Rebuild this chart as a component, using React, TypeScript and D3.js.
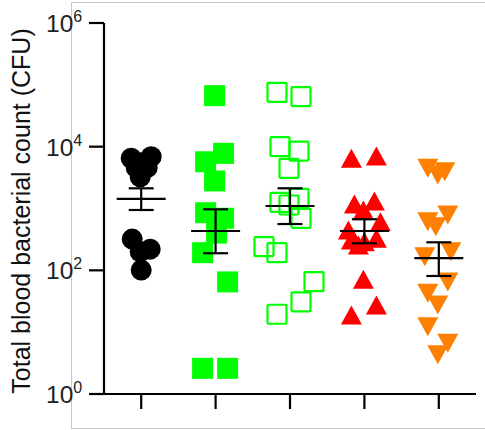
import React from 'react';
import * as d3 from 'd3';

const categories = ['Group 1', 'Group 2', 'Group 3', 'Group 4', 'Group 5'];

// CFU values per group and horizontal jitter (px) used to spread overlapping points
const g1Values = [6490, 6900, 5500, 4580, 4580, 3240, 320, 220, 200, 101];
const g1Jitter = [-10, 10, 0, -5, 6, -1, -9, 9, -1, 0];
const g2Values = [66800, 7800, 5700, 2790, 855, 695, 400, 193, 65, 2.6, 2.6];
const g2Jitter = [-1, 8, -10, -1, -10, 8, 1, -13, 12, -13, 12];
const g3Values = [75700, 64500, 10000, 8500, 4470, 1460, 1260, 1140, 694, 241, 193, 65.5, 31, 19.5];
const g3Jitter = [-13, 11, -10, 9, -1, 9, -10, -1, 11, -26, -13, 24, 11, -13];
const g4Values = [6470, 7070, 1183, 1320, 946, 612, 449, 310, 290, 330, 257, 72, 27.5, 19];
const g4Jitter = [-13, 12, -10, 10, -1, 16, -16, -13, 0, 12, -6, -1, 12, -13];
const g5Values = [4470, 3935, 3470, 785, 612, 508, 200, 166, 65, 42.5, 27.5, 12.2, 6.6, 4.3];
const g5Jitter = [-11, 6, -1, 9, -11, -3, 12, -14, 9, -11, -1, -11, 9, -1];

const groupValues = [g1Values, g2Values, g3Values, g4Values, g5Values];
const groupJitter = [g1Jitter, g2Jitter, g3Jitter, g4Jitter, g5Jitter];
const groupShapes = ['circle', 'square', 'openSquare', 'triangleUp', 'triangleDown'];
const groupColors = ['#000000', '#00ff00', '#00ff00', '#ff0000', '#ff8000'];

// mean and SEM
const means = [1426, 433, 1098, 433, 157];
const semUpper = [2120, 971, 2123, 670, 284];
const semLower = [946, 189, 561, 274, 81];

const yTickExponents = [0, 2, 4, 6];
const yLabel = 'Total blood bacterial count (CFU)';

const W = 485;
const H = 430;

export default function App() {
  const x = d3.scaleBand<string>().domain(categories).range([104, 476]).padding(0);
  const y = d3.scaleLog().domain([1, 1e6]).range([394, 23]);
  const cx = (c: string) => (x(c) as number) + x.bandwidth() / 2;

  const marker = (shape: string, color: string, px: number, py: number, key: string) => {
    const s = 21;
    if (shape === 'circle') return <circle key={key} cx={px} cy={py} r={10.5} fill={color} />;
    if (shape === 'square')
      return <rect key={key} x={px - s / 2} y={py - s / 2} width={s} height={s} fill={color} />;
    if (shape === 'openSquare')
      return (
        <rect key={key} x={px - 9.5} y={py - 9.5} width={19} height={19} rx={1} fill="none" stroke={color} strokeWidth={2.2} />
      );
    const tw = 21;
    const th = 19;
    if (shape === 'triangleUp') {
      const p = d3.path();
      p.moveTo(px, py - th / 2);
      p.lineTo(px + tw / 2, py + th / 2);
      p.lineTo(px - tw / 2, py + th / 2);
      p.closePath();
      return <path key={key} d={p.toString()} fill={color} />;
    }
    const p = d3.path();
    p.moveTo(px - tw / 2, py - th / 2);
    p.lineTo(px + tw / 2, py - th / 2);
    p.lineTo(px, py + th / 2);
    p.closePath();
    return <path key={key} d={p.toString()} fill={color} />;
  };

  return (
    <svg
      width={W}
      height={H}
      style={{ position: 'absolute', left: 0, top: 0, background: '#fff' }}
      fontFamily="'Liberation Sans', Arial, sans-serif"
    >
      <rect x={71.5} y={2.5} width={420} height={426} fill="none" stroke="#c8c8c8" strokeWidth={1} />

      {/* y axis */}
      <line x1={104} x2={104} y1={y(1e6)} y2={y(1)} stroke="#000" strokeWidth={2.2} />
      {yTickExponents.map((e) => (
        <g key={e}>
          <line x1={89} x2={104} y1={y(Math.pow(10, e))} y2={y(Math.pow(10, e))} stroke="#000" strokeWidth={2.2} />
          <text x={46} y={y(Math.pow(10, e)) + 9} fontSize={24.5} fill="#222">
            10
            <tspan fontSize={16} dy={-10}>{e}</tspan>
          </text>
        </g>
      ))}

      {/* x axis */}
      <line x1={103} x2={476} y1={394} y2={394} stroke="#000" strokeWidth={2.2} />
      {categories.map((c) => (
        <line key={c} x1={cx(c)} x2={cx(c)} y1={394} y2={409} stroke="#000" strokeWidth={2.2} />
      ))}

      {/* y label */}
      <text
        transform={`translate(30, 211) rotate(-90)`}
        textAnchor="middle"
        fontSize={25}
        fill="#111"
      >
        {yLabel}
      </text>

      {/* points */}
      {categories.map((c, gi) =>
        groupValues[gi].map((v, i) =>
          marker(groupShapes[gi], groupColors[gi], cx(c) + groupJitter[gi][i], y(v), `${gi}-${i}`)
        )
      )}

      {/* mean +/- SEM */}
      {categories.map((c, gi) => {
        const xc = cx(c);
        return (
          <g key={`e${gi}`} stroke="#000" strokeWidth={2.2}>
            <line x1={xc - 24.5} x2={xc + 24.5} y1={y(means[gi])} y2={y(means[gi])} />
            <line x1={xc} x2={xc} y1={y(semUpper[gi])} y2={y(semLower[gi])} />
            <line x1={xc - 12.5} x2={xc + 12.5} y1={y(semUpper[gi])} y2={y(semUpper[gi])} />
            <line x1={xc - 12.5} x2={xc + 12.5} y1={y(semLower[gi])} y2={y(semLower[gi])} />
          </g>
        );
      })}
    </svg>
  );
}
